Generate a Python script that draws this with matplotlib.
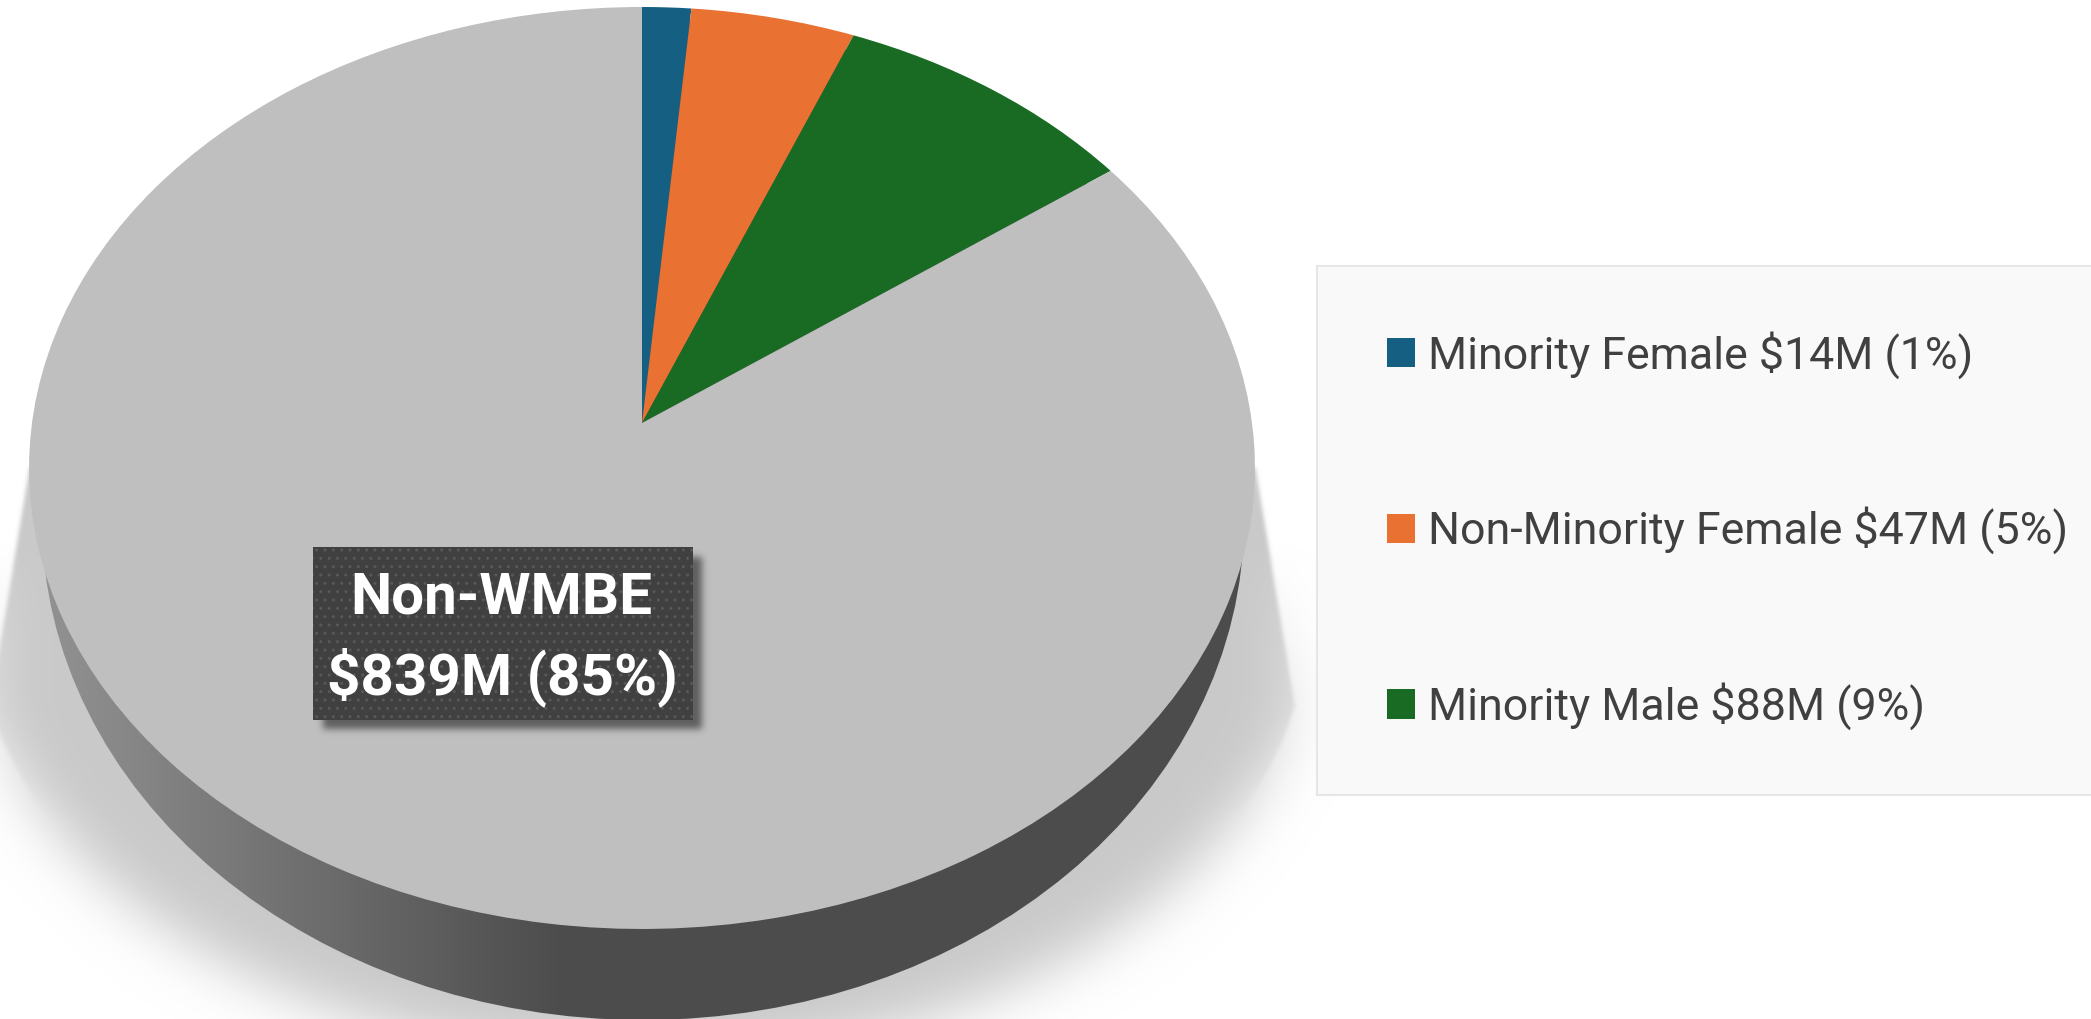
import numpy as np
import matplotlib
matplotlib.use('Agg')
import matplotlib.pyplot as plt
import matplotlib.patches as mpatches
from matplotlib.path import Path
from matplotlib.transforms import Transform

categories = ['Minority Female', 'Non-Minority Female', 'Minority Male', 'Non-WMBE']
values = [14, 47, 88, 839]
percents = [1, 5, 9, 85]
colors = ['#156082', '#E97132', '#196B24', '#BFBFBF']

# the pie top is tilted, so the apex sits above the middle of the ellipse
APEX = (642, 423)
SCALE_X, SCALE_Y, TILT = 610, 456.6, 0.0976


class TiltedPie(Transform):
    input_dims = output_dims = 2
    is_separable = False
    has_inverse = False

    def transform_non_affine(self, xy):
        xy = np.asarray(xy, dtype=float)
        w = 1 + TILT * xy[:, 1]
        return np.column_stack([APEX[0] + SCALE_X * xy[:, 0] / w,
                                APEX[1] - SCALE_Y * xy[:, 1] / w])

    def transform_path_non_affine(self, path):
        return Path(self.transform_non_affine(path.vertices), path.codes)


def blur(mask, sigma):
    # gaussian blur through the fft, one axis at a time
    for axis in (0, 1):
        n = mask.shape[axis]
        freq = np.fft.rfftfreq(n)
        kernel = np.exp(-2 * (np.pi * freq * sigma) ** 2)
        shape = [1, 1]
        shape[axis] = len(freq)
        spec = np.fft.rfft(mask, axis=axis) * kernel.reshape(shape)
        mask = np.fft.irfft(spec, n=n, axis=axis)
    return np.clip(mask, 0, 1)


def rgba_image(mask, rgb):
    img = np.zeros(mask.shape + (4,))
    img[..., :3] = rgb
    img[..., 3] = mask
    return img


fig = plt.figure(figsize=(20.91, 10.19), dpi=100, facecolor='white')
ax = fig.add_axes([0, 0, 1, 1])

# soft shadow under the pie
pad = 200
xs = np.arange(-pad, 2091 + pad)
ys = np.arange(-pad, 1019 + pad)
gx, gy = np.meshgrid(xs, ys)
side = 613 + 0.165 * (gy - 467)
curve = 665 * np.sqrt(np.clip(1 - ((gy - 620) / 440.0) ** 2, 0, 1))
half = np.where(gy > 620, np.minimum(side, curve), side)
shape = (np.abs(gx - 642) < half) & (gy > 467) & (gy < 1065)
shape = shape.astype(float)
mix = np.clip((gy - 540) / 280.0, 0, 1)
shadow = blur(shape, 2) * (1 - mix) + blur(shape, 28) * mix
ax.imshow(rgba_image(shadow, 0.79), extent=(-pad, 2091 + pad, 1019 + pad, -pad),
          aspect='auto', zorder=0, interpolation='bilinear')

# side of the disc, lighter on the left
ramp = np.clip((xs - 30) / 530.0, 0, 1)
grey = 0.58 + (0.30 - 0.58) * ramp
side_img = np.repeat(grey[None, :, None], 3, axis=2)
band = ax.imshow(side_img, extent=(-pad, 2091 + pad, 1019 + pad, -pad),
                 aspect='auto', zorder=0.5, interpolation='bilinear')
rim = mpatches.Ellipse((643, 520), 2 * 601, 2 * 500, transform=ax.transData,
                       facecolor='none', edgecolor='none')
ax.add_patch(rim)
band.set_clip_path(rim)

wedges, _ = ax.pie(values, colors=colors, startangle=90, counterclock=False,
                   radius=1, wedgeprops={'linewidth': 0, 'antialiased': True})
for w in wedges:
    w.set_transform(TiltedPie() + ax.transData)
    w.set_zorder(1)

# data label for the big slice
box_x0, box_x1, box_y0, box_y1 = 313, 693, 547, 720
box_shadow = np.zeros(gx.shape)
box_shadow[(gx > box_x0 + 9) & (gx < box_x1 + 9) & (gy > box_y0 + 9) & (gy < box_y1 + 9)] = 1
ax.imshow(rgba_image(blur(box_shadow, 3.5) * 0.6, 0.12),
          extent=(-pad, 2091 + pad, 1019 + pad, -pad),
          aspect='auto', zorder=2, interpolation='bilinear')
ax.add_patch(mpatches.Rectangle((box_x0, box_y0), box_x1 - box_x0, box_y1 - box_y0,
                                facecolor='#404040', edgecolor='#585858', hatch='..',
                                linewidth=0, zorder=3))
ax.text((box_x0 + box_x1) / 2 - 2, 598, categories[3], color='white', fontsize=42,
        fontweight='bold', family='Roboto', ha='center', va='center', zorder=4)
ax.text((box_x0 + box_x1) / 2 - 1, 677, f'${values[3]}M ({percents[3]}%)', color='white',
        fontsize=42, fontweight='bold', family='Roboto', ha='center', va='center', zorder=4)

# legend panel runs off the right edge of the picture
ax.add_patch(mpatches.Rectangle((1317, 266), 800, 529, facecolor='#F9F9F9',
                                edgecolor='#E6E6E6', linewidth=1.5, zorder=1))
handles = [mpatches.Patch(facecolor=c, edgecolor='none') for c in colors[:3]]
labels = [f'{c} ${v}M ({p}%)' for c, v, p in zip(categories[:3], values[:3], percents[:3])]
ax.legend(handles, labels, loc='upper left', bbox_to_anchor=(1387, 331),
          bbox_transform=ax.transData, borderaxespad=0, borderpad=0, frameon=False,
          handlelength=0.626, handleheight=0.626, handletextpad=0.28, labelspacing=2.86,
          labelcolor='#404040', prop={'family': 'Roboto', 'size': 32.2})

ax.set_aspect('auto')
ax.set_xlim(0, 2091)
ax.set_ylim(1019, 0)
ax.axis('off')

fig.savefig('out.png', dpi=100)
